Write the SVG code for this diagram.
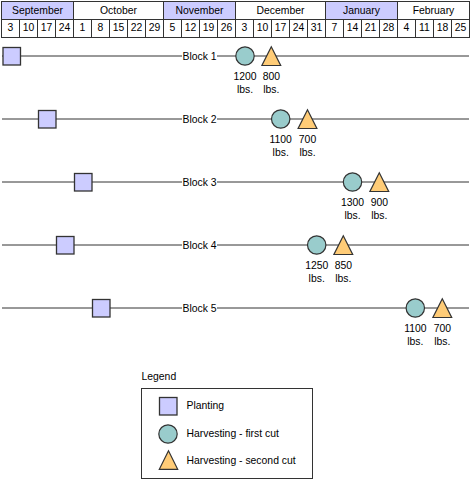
<svg xmlns="http://www.w3.org/2000/svg" width="471" height="481" viewBox="0 0 471 481">
<style>
text{font-family:"Liberation Sans",Arial,sans-serif;font-size:10.4px;fill:#000}
.c{text-anchor:middle}
.hm{fill:#fff;stroke:#333;stroke-width:1}
.hl{fill:#ccccff;stroke:#333;stroke-width:1}
.ln{stroke:#333;stroke-width:1;fill:none}
.sq{fill:#ccccff;stroke:#333;stroke-width:1.3}
.ci{fill:#99cccc;stroke:#333;stroke-width:1.2}
.tr{fill:#ffcc77;stroke:#333;stroke-width:1.2;stroke-linejoin:miter}
</style>
<rect width="471" height="481" fill="#fff"/>
<g id="header">
<rect class="hl" x="1.5" y="1.5" width="72" height="18"/>
<rect class="hm" x="73.5" y="1.5" width="90" height="18"/>
<rect class="hl" x="163.5" y="1.5" width="72" height="18"/>
<rect class="hm" x="235.5" y="1.5" width="90" height="18"/>
<rect class="hl" x="325.5" y="1.5" width="72" height="18"/>
<rect class="hm" x="397.5" y="1.5" width="72" height="18"/>
<text class="c" x="37.5" y="14">September</text>
<text class="c" x="118.5" y="14">October</text>
<text class="c" x="199.5" y="14">November</text>
<text class="c" x="280.5" y="14">December</text>
<text class="c" x="361.5" y="14">January</text>
<text class="c" x="433.5" y="14">February</text>
<rect class="hm" x="1.5" y="19.5" width="468" height="18"/>
<path class="ln" d="M19.5 19.5V37.5M37.5 19.5V37.5M55.5 19.5V37.5M73.5 19.5V37.5M91.5 19.5V37.5M109.5 19.5V37.5M127.5 19.5V37.5M145.5 19.5V37.5M163.5 19.5V37.5M181.5 19.5V37.5M199.5 19.5V37.5M217.5 19.5V37.5M235.5 19.5V37.5M253.5 19.5V37.5M271.5 19.5V37.5M289.5 19.5V37.5M307.5 19.5V37.5M325.5 19.5V37.5M343.5 19.5V37.5M361.5 19.5V37.5M379.5 19.5V37.5M397.5 19.5V37.5M415.5 19.5V37.5M433.5 19.5V37.5M451.5 19.5V37.5"/>
<g class="c">
<text class="c" x="10.5" y="31">3</text>
<text class="c" x="28.5" y="31">10</text>
<text class="c" x="46.5" y="31">17</text>
<text class="c" x="64.5" y="31">24</text>
<text class="c" x="82.5" y="31">1</text>
<text class="c" x="100.5" y="31">8</text>
<text class="c" x="118.5" y="31">15</text>
<text class="c" x="136.5" y="31">22</text>
<text class="c" x="154.5" y="31">29</text>
<text class="c" x="172.5" y="31">5</text>
<text class="c" x="190.5" y="31">12</text>
<text class="c" x="208.5" y="31">19</text>
<text class="c" x="226.5" y="31">26</text>
<text class="c" x="244.5" y="31">3</text>
<text class="c" x="262.5" y="31">10</text>
<text class="c" x="280.5" y="31">17</text>
<text class="c" x="298.5" y="31">24</text>
<text class="c" x="316.5" y="31">31</text>
<text class="c" x="334.5" y="31">7</text>
<text class="c" x="352.5" y="31">14</text>
<text class="c" x="370.5" y="31">21</text>
<text class="c" x="388.5" y="31">28</text>
<text class="c" x="406.5" y="31">4</text>
<text class="c" x="424.5" y="31">11</text>
<text class="c" x="442.5" y="31">18</text>
<text class="c" x="460.5" y="31">25</text>
</g>
</g>
<g id="connectors">
<path class="ln" d="M2 56H182M217 56H469"/>
<path class="ln" d="M2 119H182M217 119H469"/>
<path class="ln" d="M2 182H182M217 182H469"/>
<path class="ln" d="M2 245H182M217 245H469"/>
<path class="ln" d="M2 308H182M217 308H469"/>
</g>
<g id="block1">
<text class="c" x="199.5" y="59.5">Block 1</text>
<rect class="sq" x="3" y="47.5" width="17.5" height="17.5"/>
<circle class="ci" cx="245" cy="56" r="9.2"/>
<polygon class="tr" points="271.3,46.8 261.9,65.5 280.7,65.5"/>
<text class="c" x="245" y="79.5">1200</text><text class="c" x="245" y="92.5">lbs.</text>
<text class="c" x="271.3" y="79.5">800</text><text class="c" x="271.3" y="92.5">lbs.</text>
</g>
<g id="block2">
<text class="c" x="199.5" y="122.5">Block 2</text>
<rect class="sq" x="38.5" y="110.5" width="17.5" height="17.5"/>
<circle class="ci" cx="280.7" cy="119" r="9.2"/>
<polygon class="tr" points="307.5,109.8 298.1,128.5 316.9,128.5"/>
<text class="c" x="280.7" y="142.5">1100</text><text class="c" x="280.7" y="155.5">lbs.</text>
<text class="c" x="307.5" y="142.5">700</text><text class="c" x="307.5" y="155.5">lbs.</text>
</g>
<g id="block3">
<text class="c" x="199.5" y="185.5">Block 3</text>
<rect class="sq" x="74.5" y="173.5" width="17.5" height="17.5"/>
<circle class="ci" cx="352.5" cy="182" r="9.2"/>
<polygon class="tr" points="379.3,172.8 369.9,191.5 388.7,191.5"/>
<text class="c" x="352.5" y="205.5">1300</text><text class="c" x="352.5" y="218.5">lbs.</text>
<text class="c" x="379.3" y="205.5">900</text><text class="c" x="379.3" y="218.5">lbs.</text>
</g>
<g id="block4">
<text class="c" x="199.5" y="248.5">Block 4</text>
<rect class="sq" x="56.5" y="236.5" width="17.5" height="17.5"/>
<circle class="ci" cx="316.7" cy="245" r="9.2"/>
<polygon class="tr" points="343.3,235.8 333.9,254.5 352.7,254.5"/>
<text class="c" x="316.7" y="268.5">1250</text><text class="c" x="316.7" y="281.5">lbs.</text>
<text class="c" x="343.3" y="268.5">850</text><text class="c" x="343.3" y="281.5">lbs.</text>
</g>
<g id="block5">
<text class="c" x="199.5" y="311.5">Block 5</text>
<rect class="sq" x="92.5" y="299.5" width="17.5" height="17.5"/>
<circle class="ci" cx="415.3" cy="308" r="9.2"/>
<polygon class="tr" points="442.3,298.8 432.9,317.5 451.7,317.5"/>
<text class="c" x="415.3" y="331.5">1100</text><text class="c" x="415.3" y="344.5">lbs.</text>
<text class="c" x="442.3" y="331.5">700</text><text class="c" x="442.3" y="344.5">lbs.</text>
</g>
<g id="legend">
<text x="141.5" y="379.5">Legend</text>
<rect x="141.5" y="388.5" width="171" height="90" fill="#fff" stroke="#333" stroke-width="1"/>
<rect class="sq" x="159.5" y="397.5" width="17.5" height="17.5"/>
<circle class="ci" cx="168" cy="434" r="9.2"/>
<polygon class="tr" points="168.5,450.8 159.3,469.3 177.7,469.3"/>
<text x="186.5" y="409">Planting</text>
<text x="186.5" y="436.5">Harvesting - first cut</text>
<text x="186.5" y="463.5">Harvesting - second cut</text>
</g>
</svg>
